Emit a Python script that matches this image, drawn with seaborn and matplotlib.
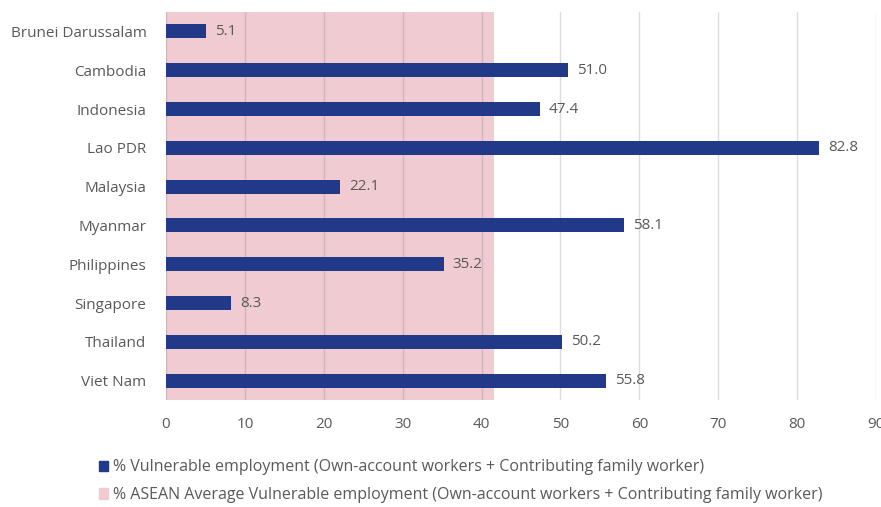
import pandas as pd
import numpy as np
import matplotlib.pyplot as plt
import seaborn as sns
from matplotlib.patches import Patch

countries = ['Brunei Darussalam', 'Cambodia', 'Indonesia', 'Lao PDR', 'Malaysia',
             'Myanmar', 'Philippines', 'Singapore', 'Thailand', 'Viet Nam']
vulnerable = [5.1, 51.0, 47.4, 82.8, 22.1, 58.1, 35.2, 8.3, 50.2, 55.8]
asean_avg = [41.6] * len(countries)

data = pd.DataFrame({'Country': countries, 'Vulnerable': vulnerable, 'ASEAN': asean_avg})

sns.set_style('white')
plt.rcParams['font.family'] = ['Open Sans', 'DejaVu Sans']

navy = '#22398a'
pink = '#f0cbd2'
txt = '#595959'

fig = plt.figure(figsize=(8.81, 5.07), dpi=100)
ax = fig.add_axes([0.1884, 0.211, 0.806, 0.7653])

sns.barplot(data=data, x='ASEAN', y='Country', color=pink, width=1.0,
            saturation=1, linewidth=0, ax=ax, zorder=1)
sns.barplot(data=data, x='Vulnerable', y='Country', color=navy, width=0.36,
            saturation=1, linewidth=0, ax=ax, zorder=3)

for i, v in enumerate(vulnerable):
    ax.text(v + 1.1, i, f'{v:.1f}', va='center', ha='left', fontsize=11, color=txt, zorder=4)

ax.set_xlim(0, 90)
ax.set_xticks(range(0, 91, 10))
ax.set_axisbelow(False)
ax.grid(axis='x', color='#808080', alpha=0.28, linewidth=1)
for s in ax.spines.values():
    s.set_visible(False)
ax.set_xlabel('')
ax.set_ylabel('')
ax.tick_params(axis='both', length=0, labelsize=11, colors=txt)
ax.tick_params(axis='x', pad=12)
ax.tick_params(axis='y', pad=14)

handles = [Patch(color=navy), Patch(color=pink)]
labels = ['% Vulnerable employment (Own-account workers + Contributing family worker)',
          '% ASEAN Average Vulnerable employment (Own-account workers + Contributing family worker)']
fig.legend(handles, labels, loc='upper left', bbox_to_anchor=(0.103, 0.11), frameon=False,
           fontsize=11.5, labelcolor=txt, handlelength=0.6, handleheight=0.6,
           handletextpad=0.3, labelspacing=0.75, borderpad=0)

fig.savefig('out.png', dpi=100)
